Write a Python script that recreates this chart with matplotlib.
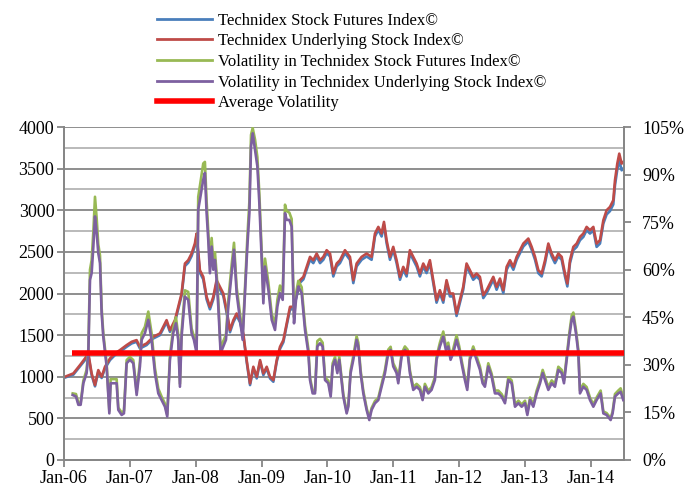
import matplotlib
matplotlib.use("Agg")
import matplotlib.pyplot as plt
import matplotlib.dates as mdates
import pandas as pd
import numpy as np
from matplotlib.lines import Line2D

# ---------------- data (decimal years) ----------------
idx_years = [2006.015, 2006.142, 2006.243, 2006.319, 2006.370, 2006.420, 2006.471, 2006.521, 2006.572, 2006.623,
             2006.699, 2006.774, 2006.850, 2006.952, 2007.028, 2007.103, 2007.154, 2007.255, 2007.357, 2007.458,
             2007.559, 2007.610, 2007.686, 2007.736, 2007.787, 2007.838, 2007.888, 2007.939, 2007.989, 2008.015,
             2008.065, 2008.116, 2008.167, 2008.217, 2008.268, 2008.318, 2008.369, 2008.420, 2008.470, 2008.521,
             2008.572, 2008.622, 2008.673, 2008.723, 2008.774, 2008.825, 2008.875, 2008.926, 2008.977, 2009.027,
             2009.078, 2009.128, 2009.179, 2009.230, 2009.280, 2009.331, 2009.381, 2009.432, 2009.483, 2009.533,
             2009.584, 2009.635, 2009.685, 2009.736, 2009.786, 2009.837, 2009.888, 2009.938, 2009.989, 2010.040,
             2010.090, 2010.141, 2010.191, 2010.267, 2010.343, 2010.394, 2010.444, 2010.520, 2010.596, 2010.672,
             2010.723, 2010.774, 2010.824, 2010.860, 2010.900, 2010.951, 2011.001, 2011.052, 2011.103, 2011.153,
             2011.204, 2011.254, 2011.305, 2011.356, 2011.406, 2011.457, 2011.507, 2011.558, 2011.609, 2011.659,
             2011.710, 2011.761, 2011.811, 2011.862, 2011.912, 2011.963, 2012.014, 2012.064, 2012.115, 2012.166,
             2012.216, 2012.267, 2012.317, 2012.368, 2012.419, 2012.469, 2012.520, 2012.570, 2012.621, 2012.672,
             2012.722, 2012.773, 2012.824, 2012.874, 2012.925, 2012.975, 2013.051, 2013.102, 2013.153, 2013.203,
             2013.254, 2013.305, 2013.355, 2013.406, 2013.456, 2013.507, 2013.558, 2013.608, 2013.644, 2013.684,
             2013.735, 2013.786, 2013.836, 2013.887, 2013.937, 2013.988, 2014.039, 2014.089, 2014.140, 2014.191,
             2014.241, 2014.292, 2014.342, 2014.368, 2014.403, 2014.433, 2014.469, 2014.494]

underlying_index = [1000, 1040, 1140, 1220, 1280, 1040, 900, 1080, 1000, 1120,
                    1220, 1280, 1320, 1380, 1420, 1440, 1360, 1400, 1480, 1520,
                    1680, 1560, 1680, 1840, 2000, 2360, 2400, 2480, 2600, 2720,
                    2280, 2200, 1960, 1840, 1960, 2160, 2080, 2000, 1800, 1560,
                    1680, 1760, 1680, 1520, 1200, 920, 1120, 1000, 1200, 1040,
                    1120, 1000, 960, 1200, 1360, 1440, 1640, 1840, 1840, 2000,
                    2160, 2200, 2320, 2440, 2400, 2480, 2400, 2440, 2520, 2480,
                    2240, 2360, 2400, 2520, 2440, 2160, 2360, 2440, 2480, 2440,
                    2720, 2800, 2720, 2860, 2640, 2440, 2560, 2400, 2200, 2320,
                    2240, 2520, 2440, 2360, 2240, 2360, 2280, 2400, 2160, 1920,
                    2040, 1920, 2160, 2000, 2000, 1760, 1920, 2080, 2360, 2280,
                    2200, 2240, 2200, 1980, 2040, 2120, 2200, 2080, 2180, 2040,
                    2320, 2400, 2320, 2440, 2520, 2600, 2660, 2560, 2440, 2280,
                    2240, 2400, 2600, 2480, 2400, 2480, 2440, 2240, 2120, 2400,
                    2560, 2600, 2680, 2720, 2800, 2760, 2800, 2600, 2640, 2880,
                    3000, 3040, 3120, 3360, 3560, 3680, 3560, 3580]

futures_index = [990, 1025, 1125, 1200, 1260, 1020, 885, 1060, 985, 1100,
                 1200, 1260, 1300, 1360, 1400, 1420, 1340, 1380, 1460, 1500,
                 1655, 1540, 1655, 1815, 1975, 2330, 2370, 2450, 2570, 2690,
                 2250, 2170, 1930, 1810, 1930, 2130, 2050, 1970, 1770, 1535,
                 1655, 1735, 1655, 1495, 1180, 900, 1100, 980, 1180, 1020,
                 1100, 980, 940, 1180, 1335, 1415, 1615, 1810, 1810, 1970,
                 2130, 2170, 2285, 2405, 2365, 2445, 2365, 2405, 2485, 2445,
                 2205, 2325, 2365, 2485, 2405, 2125, 2325, 2405, 2445, 2405,
                 2685, 2765, 2685, 2825, 2605, 2405, 2525, 2365, 2165, 2285,
                 2205, 2485, 2405, 2325, 2205, 2325, 2245, 2365, 2125, 1890,
                 2005, 1890, 2125, 1965, 1965, 1730, 1890, 2045, 2325, 2245,
                 2165, 2205, 2165, 1945, 2005, 2085, 2165, 2045, 2145, 2005,
                 2285, 2365, 2285, 2405, 2485, 2565, 2625, 2525, 2405, 2245,
                 2205, 2365, 2565, 2445, 2365, 2445, 2405, 2205, 2085, 2365,
                 2520, 2560, 2640, 2680, 2760, 2720, 2760, 2560, 2600, 2840,
                 2950, 2990, 3070, 3300, 3490, 3600, 3480, 3500]

vol_years = [2006.132, 2006.182, 2006.218, 2006.253, 2006.294, 2006.344, 2006.370, 2006.395, 2006.420, 2006.446,
             2006.471, 2006.497, 2006.521, 2006.547, 2006.572, 2006.597, 2006.648, 2006.689, 2006.709, 2006.749,
             2006.800, 2006.825, 2006.876, 2006.911, 2006.952, 2007.002, 2007.053, 2007.104, 2007.154, 2007.180,
             2007.230, 2007.281, 2007.331, 2007.382, 2007.433, 2007.483, 2007.534, 2007.569, 2007.610, 2007.660,
             2007.701, 2007.736, 2007.762, 2007.787, 2007.838, 2007.888, 2007.939, 2007.974, 2008.015, 2008.040,
             2008.066, 2008.116, 2008.141, 2008.167, 2008.192, 2008.217, 2008.243, 2008.268, 2008.293, 2008.318,
             2008.344, 2008.379, 2008.420, 2008.460, 2008.496, 2008.546, 2008.582, 2008.622, 2008.673, 2008.713,
             2008.749, 2008.784, 2008.815, 2008.840, 2008.865, 2008.901, 2008.936, 2008.966, 2009.002, 2009.027,
             2009.052, 2009.103, 2009.154, 2009.204, 2009.240, 2009.280, 2009.321, 2009.356, 2009.381, 2009.422,
             2009.457, 2009.493, 2009.523, 2009.558, 2009.609, 2009.660, 2009.711, 2009.736, 2009.776, 2009.812,
             2009.847, 2009.888, 2009.928, 2009.964, 2010.014, 2010.050, 2010.080, 2010.116, 2010.151, 2010.181,
             2010.242, 2010.293, 2010.318, 2010.353, 2010.394, 2010.444, 2010.470, 2010.505, 2010.546, 2010.596,
             2010.637, 2010.672, 2010.723, 2010.774, 2010.824, 2010.875, 2010.925, 2010.961, 2011.001, 2011.052,
             2011.077, 2011.128, 2011.178, 2011.219, 2011.254, 2011.305, 2011.356, 2011.406, 2011.447, 2011.482,
             2011.533, 2011.583, 2011.634, 2011.659, 2011.710, 2011.761, 2011.801, 2011.837, 2011.872, 2011.912,
             2011.963, 2012.004, 2012.039, 2012.090, 2012.125, 2012.166, 2012.216, 2012.267, 2012.317, 2012.358,
             2012.393, 2012.444, 2012.495, 2012.545, 2012.596, 2012.646, 2012.697, 2012.748, 2012.798, 2012.849,
             2012.900, 2012.950, 2013.001, 2013.036, 2013.077, 2013.127, 2013.178, 2013.229, 2013.269, 2013.305,
             2013.355, 2013.406, 2013.456, 2013.507, 2013.558, 2013.593, 2013.634, 2013.674, 2013.710, 2013.735,
             2013.775, 2013.811, 2013.836, 2013.887, 2013.937, 2013.988, 2014.039, 2014.089, 2014.150, 2014.191,
             2014.241, 2014.302, 2014.332, 2014.368, 2014.418, 2014.454, 2014.494]

vol_underlying = [20.5, 20.0, 17.4, 17.4, 24.2, 27.4, 33.7, 56.8, 58.9, 67.3,
                  76.8, 71.5, 65.2, 62.1, 46.3, 38.9, 29.5, 14.7, 24.2, 24.2,
                  24.2, 15.8, 14.2, 14.7, 30.5, 31.6, 30.5, 20.5, 29.5, 37.9,
                  40.0, 44.2, 37.9, 27.4, 21.0, 18.9, 16.8, 13.7, 31.6, 40.0,
                  43.1, 37.9, 23.1, 38.9, 51.5, 50.5, 40.0, 37.9, 33.7, 78.9,
                  82.1, 88.4, 90.5, 77.8, 69.4, 58.9, 67.3, 60.0, 63.1, 56.8,
                  48.4, 33.7, 35.8, 37.9, 48.4, 58.9, 66.3, 52.6, 44.2, 37.9,
                  52.6, 67.3, 77.8, 98.9, 103.0, 97.8, 92.6, 81.0, 63.1, 49.4,
                  61.0, 53.7, 44.2, 41.0, 48.4, 52.6, 50.5, 77.8, 75.7, 75.7,
                  73.6, 43.1, 50.5, 54.7, 52.6, 41.0, 33.7, 25.2, 21.0, 21.0,
                  35.8, 36.8, 35.8, 25.2, 24.2, 20.0, 29.5, 31.6, 27.4, 31.6,
                  20.0, 14.7, 16.8, 27.4, 31.6, 37.9, 35.8, 27.4, 21.0, 15.8,
                  12.6, 15.8, 17.9, 18.9, 23.1, 27.4, 33.7, 34.7, 29.5, 27.4,
                  24.2, 32.6, 34.7, 33.7, 27.4, 22.1, 23.1, 22.1, 18.9, 23.1,
                  21.0, 22.1, 25.2, 31.6, 35.8, 38.9, 34.7, 35.8, 31.6, 33.7,
                  37.9, 34.7, 30.5, 25.2, 22.1, 31.6, 34.7, 31.6, 28.5, 24.2,
                  23.1, 29.5, 26.3, 21.0, 21.0, 20.0, 17.9, 25.2, 24.2, 16.8,
                  17.9, 16.8, 17.9, 14.2, 18.9, 16.8, 21.0, 24.2, 27.4, 25.2,
                  22.1, 24.2, 23.1, 28.4, 27.4, 24.2, 31.6, 38.9, 44.2, 45.2,
                  40.0, 33.7, 21.0, 23.1, 22.1, 18.9, 16.8, 18.9, 21.0, 14.7,
                  14.2, 12.6, 14.7, 20.0, 21.0, 21.5, 18.9]

vol_futures = [21.0, 20.8, 18.0, 18.0, 25.0, 28.5, 35.0, 60.0, 63.0, 72.0,
               83.0, 76.0, 68.0, 64.5, 48.0, 40.0, 30.5, 15.5, 25.5, 25.5,
               25.5, 16.5, 15.0, 15.5, 31.5, 32.5, 31.5, 21.5, 31.0, 40.0,
               42.0, 46.8, 40.0, 29.0, 22.5, 20.0, 17.8, 14.3, 33.0, 41.5,
               45.0, 39.5, 24.0, 40.5, 53.5, 53.0, 41.5, 39.0, 35.0, 83.0,
               86.5, 93.5, 94.0, 81.5, 72.0, 61.5, 70.0, 62.5, 65.5, 59.0,
               50.5, 35.0, 37.5, 39.5, 50.5, 61.5, 68.5, 54.5, 46.0, 39.5,
               54.5, 70.0, 81.5, 102.5, 104.7, 101.0, 95.5, 84.0, 65.5, 51.5,
               63.5, 56.0, 46.0, 43.0, 50.5, 55.0, 52.5, 80.5, 78.5, 78.0,
               76.0, 45.0, 52.5, 56.5, 54.5, 42.5, 35.0, 26.0, 21.8, 21.8,
               37.5, 38.2, 37.0, 26.0, 25.0, 20.8, 30.5, 32.5, 28.2, 32.5,
               20.8, 15.3, 17.4, 28.3, 32.8, 39.0, 37.0, 28.3, 21.8, 16.4,
               13.2, 16.4, 18.6, 19.6, 24.0, 28.4, 34.8, 35.7, 30.5, 28.3,
               25.0, 33.6, 35.8, 34.8, 28.3, 23.0, 24.0, 23.0, 19.7, 24.0,
               21.8, 23.0, 26.1, 32.6, 37.0, 40.5, 35.8, 37.0, 32.6, 35.0,
               39.3, 35.8, 31.5, 26.1, 23.0, 32.6, 35.8, 32.6, 29.5, 25.1,
               24.0, 30.5, 27.2, 21.9, 21.9, 20.8, 18.7, 26.1, 25.1, 17.5,
               18.7, 17.5, 18.7, 14.9, 19.7, 17.5, 21.9, 25.1, 28.4, 26.1,
               23.0, 25.1, 24.0, 29.4, 28.4, 25.1, 32.6, 40.0, 45.5, 46.5,
               41.0, 34.7, 21.9, 24.0, 23.0, 19.7, 17.5, 19.7, 21.9, 15.3,
               14.8, 13.2, 15.3, 20.8, 21.9, 22.6, 19.7]

average_volatility = 33.6
avg_span = [2006.117, 2014.505]

left_ticks = [0, 500, 1000, 1500, 2000, 2500, 3000, 3500, 4000]
right_ticks = [0, 15, 30, 45, 60, 75, 90, 105]
x_tick_years = [2006, 2007, 2008, 2009, 2010, 2011, 2012, 2013, 2014]
x_limits = [2006.0, 2014.505]

labels = ["Technidex Stock Futures Index\u00a9",
          "Technidex Underlying Stock Index\u00a9",
          "Volatility in Technidex Stock Futures Index\u00a9",
          "Volatility in Technidex Underlying Stock Index\u00a9",
          "Average Volatility"]
colors = ["#4A7EBB", "#BE4B48", "#98B954", "#7D60A0", "#FF0000"]


def to_dt(years):
    out = []
    for y in years:
        yr = int(np.floor(y))
        start = pd.Timestamp(year=yr, month=1, day=1)
        end = pd.Timestamp(year=yr + 1, month=1, day=1)
        out.append(start + (end - start) * (y - yr))
    return pd.to_datetime(out)


idx_dt = to_dt(idx_years)
vol_dt = to_dt(vol_years)

plt.rcParams['font.family'] = ['Liberation Serif', 'DejaVu Serif']

fig = plt.figure(figsize=(6.92, 4.88), dpi=100)
ax = fig.add_axes([64 / 692, 1 - 460 / 488, 560 / 692, 333 / 488])
ax2 = ax.twinx()

grid_dark = "#868686"
grid_light = "#B4B4B4"
for v in range(250, 4001, 250):
    ax.axhline(v, color=grid_dark if v % 500 == 0 else grid_light, lw=1.3, zorder=0)

lw = 1.9
ax.plot(idx_dt, futures_index, color=colors[0], lw=lw, zorder=2)
ax.plot(idx_dt, underlying_index, color=colors[1], lw=lw, zorder=3)
ax2.plot(vol_dt, vol_futures, color=colors[2], lw=lw, zorder=2)
ax2.plot(vol_dt, vol_underlying, color=colors[3], lw=lw, zorder=3)
ax2.plot(to_dt(avg_span), [average_volatility, average_volatility], color=colors[4], lw=4, zorder=4,
         solid_capstyle='butt')

xl = to_dt(x_limits)
ax.set_xlim(xl[0], xl[1])
ax.set_ylim(0, 4000)
ax2.set_ylim(0, 105)
ax.set_yticks(left_ticks)
ax.set_yticklabels([str(v) for v in left_ticks])
ax2.set_yticks(right_ticks)
ax2.set_yticklabels([f"{v}%" for v in right_ticks])
ax.set_xticks(to_dt(x_tick_years))
ax.xaxis.set_major_formatter(mdates.DateFormatter('%b-%y'))

axis_col = "#868686"
for a in (ax, ax2):
    a.spines['top'].set_visible(False)
    for s in ('left', 'right', 'bottom'):
        a.spines[s].set_color(axis_col)
        a.spines[s].set_linewidth(1.3)
    a.tick_params(colors=axis_col, labelcolor='black', labelsize=13, length=5, width=1.3)
ax.tick_params(axis='x', pad=2)
ax.tick_params(axis='y', pad=2)
ax2.tick_params(axis='y', pad=8)

handles = [Line2D([], [], color=c, lw=(4 if i == 4 else 2)) for i, c in enumerate(colors)]
fig.legend(handles, labels, loc='upper left', bbox_to_anchor=(150 / 692, 1 - 6 / 488),
           frameon=False, fontsize=12, handlelength=3.3, handletextpad=0.35,
           labelspacing=0.28, borderaxespad=0)

fig.savefig("out.png", dpi=100)
